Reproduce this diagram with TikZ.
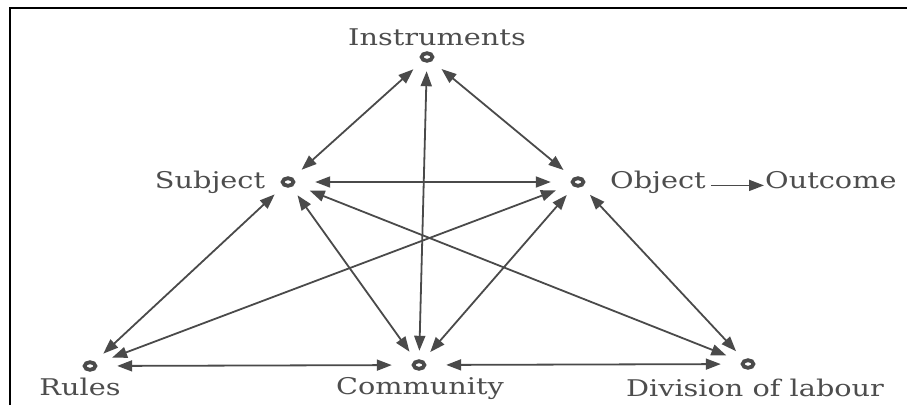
\documentclass[tikz,border=0pt]{standalone}
\usepackage{fontspec}
\setmainfont[FakeStretch=1.25]{DejaVu Serif}
\usetikzlibrary{arrows.meta,shapes.geometric}
\definecolor{ln}{HTML}{4A4A4A}
\definecolor{tx}{HTML}{4D4D4D}
\begin{document}
\begin{tikzpicture}[x=1pt,y=-1pt,
 halo/.style={ellipse, minimum width=54pt, minimum height=28pt, inner sep=0pt},
 ring/.style={draw=ln, line width=3.8pt},
 lab/.style={text=tx, font=\fontsize{23}{26}\selectfont, inner sep=0pt},
 link/.style={draw=ln, line width=1.8pt, {Triangle[length=15pt,width=11pt]}-{Triangle[length=15pt,width=11pt]}},
 onelink/.style={draw=ln, line width=1.8pt, -{Triangle[length=15pt,width=11pt]}},
]
\useasboundingbox (0,0) rectangle (907,405);
\draw[line width=2.4pt] (10,405) -- (10,8) -- (907,8);
% points
\node[halo] (ins) at (427,57) {};
\node[halo] (sub) at (288,182) {};
\node[halo] (obj) at (578,182) {};
\node[halo] (rul) at (90,366) {};
\node[halo] (com) at (419,365) {};
\node[halo] (div) at (748,364) {};
\foreach \n in {ins,sub,obj,rul,com,div}
  \draw[ring] (\n.center) ellipse [x radius=5.4pt, y radius=3.8pt];
% labels
\node[lab, anchor=base] (tins) at (437,45) {Instruments};
\node[lab, anchor=base] (tsub) at (210,188) {Subject};
\node[lab, anchor=base west] (tobj) at (610,188) {Object};
\node[lab, anchor=base west] (tout) at (765,188) {Outcome};
\node[lab, anchor=base] (trul) at (80,395) {Rules};
\node[lab, anchor=base] (tcom) at (420,394) {Community};
\node[lab, anchor=base] (tdiv) at (755,396) {Division of labour};
% connectors
\draw[link] (ins) -- (sub);
\draw[link] (ins) -- (obj);
\draw[link] (ins) -- (com);
\draw[link] (sub) -- (obj);
\draw[link] (sub) -- (rul);
\draw[link] (sub) -- (com);
\draw[link] (sub) -- (div);
\draw[link] (obj) -- (rul);
\draw[link] (obj) -- (com);
\draw[link] (obj) -- (div);
\draw[link] (rul) -- (com);
\draw[link] (com) -- (div);
\draw[onelink, shorten <=5pt, shorten >=1pt] (tobj.mid east) -- (tout.mid west);
\end{tikzpicture}
\end{document}
